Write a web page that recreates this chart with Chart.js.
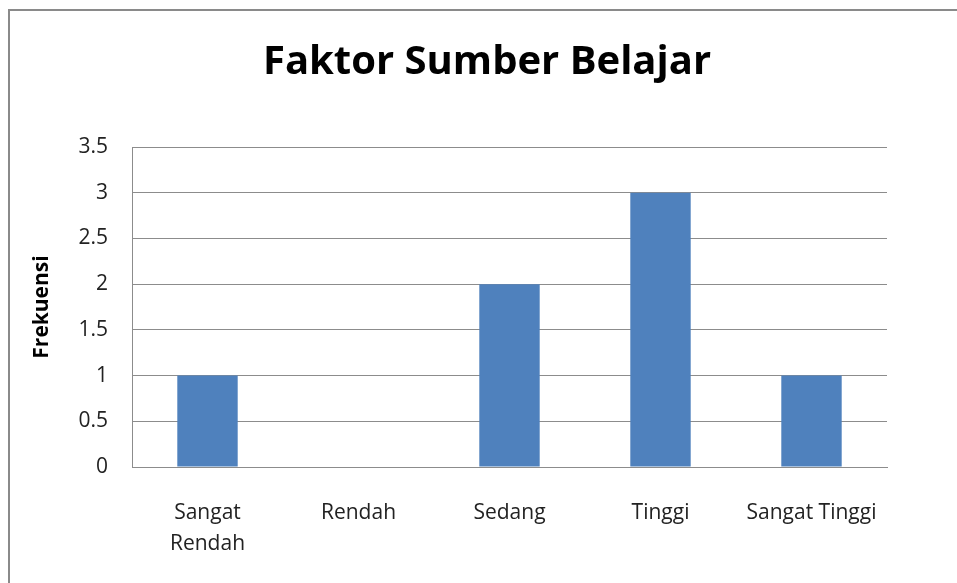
<!DOCTYPE html>
<html>
<head>
<meta charset="utf-8">
<script src="https://cdn.jsdelivr.net/npm/chart.js@4"></script>
<style>
  html, body { margin: 0; padding: 0; background: #fff; }
  #wrap { position: relative; width: 957px; height: 583px; overflow: hidden; }
  #frame { position: absolute; left: 8px; top: 9px; width: 1000px; height: 600px;
           border-left: 2px solid #8a8a8a; border-top: 2px solid #8a8a8a; }
  #chart { position: absolute; left: 0; top: 0; }
</style>
</head>
<body>
<div id="wrap">
  <div id="frame"></div>
  <canvas id="chart" width="957" height="583"></canvas>
</div>
<script>
// data chart
const categories = [["Sangat", "Rendah"], "Rendah", "Sedang", "Tinggi", "Sangat Tinggi"];
const frekuensi = [1, 0, 2, 3, 1];
const yMin = 0;
const yMax = 3.5;
const yStep = 0.5;

const fontFamily = "'Open Sans', 'Noto Sans', sans-serif";
const gridColor = "#8c8c8c";

const ctx = document.getElementById("chart").getContext("2d");
new Chart(ctx, {
    type: "bar",
    data: {
        labels: categories,
        datasets: [{
            label: "Frekuensi",
            data: frekuensi,
            backgroundColor: "#4F81BD",
            borderWidth: 0,
            barPercentage: 0.4,
            categoryPercentage: 1.0
        }]
    },
    options: {
        responsive: false,
        animation: false,
        layout: { padding: { left: 20, right: 3, top: 10, bottom: 0 } },
        plugins: {
            legend: { display: false },
            tooltip: { enabled: false },
            title: {
                display: true,
                text: "Faktor Sumber Belajar",
                color: "#000",
                font: { family: fontFamily, size: 40, weight: "bold", lineHeight: 1.2 },
                padding: { top: 29, bottom: 60 }
            }
        },
        scales: {
            x: {
                grid: { display: false, drawTicks: false },
                border: { display: true, color: gridColor, width: 1 },
                ticks: {
                    color: "#222",
                    font: { family: fontFamily, size: 21, lineHeight: 1.45 },
                    padding: 31,
                    maxRotation: 0,
                    autoSkip: false
                },
                afterFit: function (scale) { scale.height = 116; }
            },
            y: {
                min: yMin,
                max: yMax,
                grid: { color: gridColor, lineWidth: 1, drawTicks: false },
                border: { display: true, color: gridColor, width: 1 },
                ticks: {
                    stepSize: yStep,
                    color: "#222",
                    font: { family: fontFamily, size: 21 },
                    padding: 24,
                    callback: function (value) { return String(value); }
                },
                title: {
                    display: true,
                    text: "Frekuensi",
                    color: "#000",
                    font: { family: fontFamily, size: 21, weight: "bold", lineHeight: 1.2 },
                    padding: { top: 9, bottom: 0 }
                },
                afterFit: function (scale) { scale.width = 112; }
            },
            // empty right axis, keeps the plot off the right edge
            yRight: {
                position: "right",
                display: true,
                grid: { display: false, drawTicks: false },
                border: { display: false },
                ticks: { display: false },
                afterFit: function (scale) { scale.width = 67; }
            }
        }
    }
});
</script>
</body>
</html>
